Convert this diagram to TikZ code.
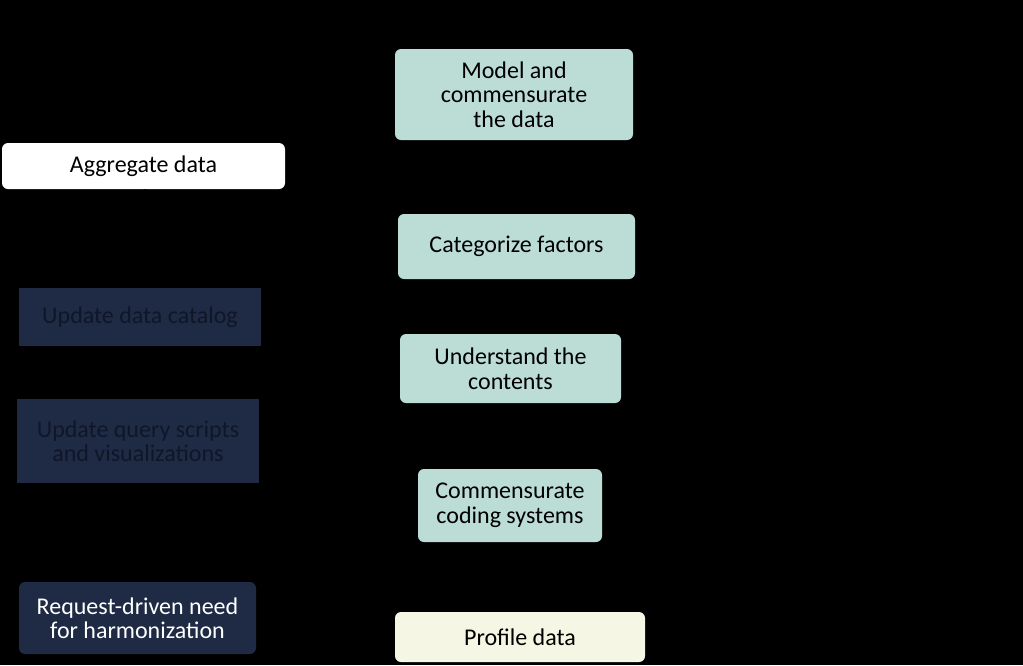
\documentclass[tikz,border=0pt]{standalone}
\usepackage{fontspec}
\setmainfont{Carlito}
\usetikzlibrary{arrows.meta}
\definecolor{stepteal}{HTML}{BCDDD6}
\definecolor{stepcream}{HTML}{F6F6E4}
\definecolor{tasknavy}{HTML}{1F2B45}
\definecolor{tasktext}{HTML}{0F1628}
\begin{document}
\begin{tikzpicture}[x=1pt,y=-1pt,
    stepbox/.style={fill=stepteal,rounded corners=6pt,align=center,inner sep=0pt,font=\fontsize{24}{24.5}\selectfont},
    taskbox/.style={fill=tasknavy,align=center,inner sep=0pt,text=tasktext,font=\fontsize{24}{24}\selectfont}]
    \fill[black] (0,0) rectangle (1023,665);
    \useasboundingbox (0,0) rectangle (1023,665);
    % harmonization steps
    \node[stepbox,minimum width=238pt,minimum height=91pt] (model) at (514,94.5) {Model and\\commensurate\\the data};
    \node[stepbox,minimum width=237pt,minimum height=65pt] (categ) at (516.5,246.5) {Categorize factors};
    \node[stepbox,minimum width=221pt,minimum height=69pt] (underst) at (510.5,368.5) {Understand the\\contents};
    \node[stepbox,minimum width=184pt,minimum height=73pt] (coding) at (510,505.5) {Commensurate\\coding systems};
    \node[stepbox,fill=stepcream,minimum width=250pt,minimum height=50pt] (profile) at (520,637) {Profile data};
    % left column
    \node[stepbox,fill=white,minimum width=283pt,minimum height=46pt] (aggr) at (143.5,166) {Aggregate data};
    \node[taskbox,minimum width=242pt,minimum height=58pt] (catalog) at (140,317) {Update data catalog};
    \node[taskbox,minimum width=242pt,minimum height=84pt] (scripts) at (138,441) {Update query scripts\\and visualizations};
    \node[stepbox,fill=tasknavy,text=white,minimum width=237pt,minimum height=72pt] (request) at (137.5,618) {Request-driven need\\for harmonization};
    \draw[black,line width=2pt,-{Triangle[length=13pt,width=13pt]}] ([xshift=2pt]aggr.south) -- ([xshift=5pt,yshift=12pt]catalog.north);
    \draw[black,line width=2pt,-{Triangle[length=13pt,width=13pt]}] ([xshift=5pt]catalog.south) -- ([xshift=2pt,yshift=12pt]scripts.north);
\end{tikzpicture}
\end{document}
